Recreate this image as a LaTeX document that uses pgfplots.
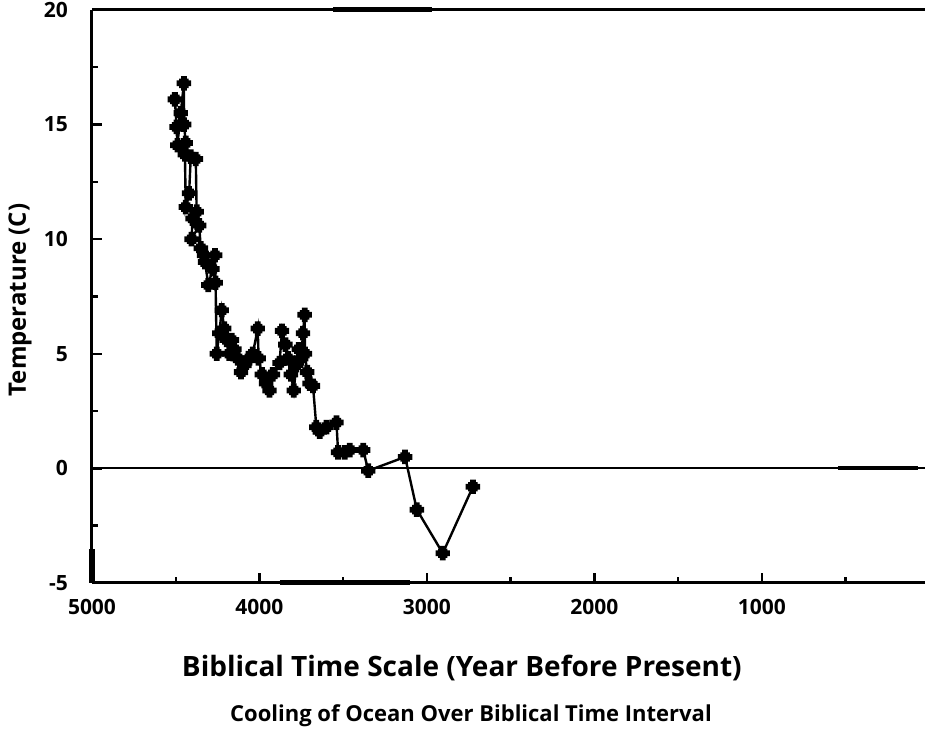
\documentclass[border=0pt]{standalone}
\usepackage{fontspec}
\setmainfont{Open Sans}
\usepackage{pgfplots}
\pgfplotsset{compat=1.18}
\usetikzlibrary{calc}
\pgfdeclareplotmark{fatplus}{%
  \pgfpathrectangle{\pgfpoint{-\pgfplotmarksize}{-0.4\pgfplotmarksize}}{\pgfpoint{2\pgfplotmarksize}{0.8\pgfplotmarksize}}%
  \pgfpathrectangle{\pgfpoint{-0.4\pgfplotmarksize}{-\pgfplotmarksize}}{\pgfpoint{0.8\pgfplotmarksize}{2\pgfplotmarksize}}%
  \pgfpathrectangle{\pgfpoint{-0.65\pgfplotmarksize}{-0.65\pgfplotmarksize}}{\pgfpoint{1.3\pgfplotmarksize}{1.3\pgfplotmarksize}}%
  \pgfusepathqfill}
\pgfplotstableread{
x y
4505 16.1
4495 14.9
4490 14.1
4470 15.5
4451 16.8
4450 15.0
4440 14.2
4445 13.7
4440 11.4
4420 12.0
4410 13.6
4380 13.5
4375 11.2
4400 10.9
4405 10.0
4360 10.6
4350 9.6
4330 9.3
4325 9.0
4305 8.0
4280 8.7
4265 9.3
4262 8.1
4255 5.0
4240 5.9
4225 6.9
4210 6.1
4195 5.6
4180 5.0
4165 5.6
4150 5.2
4130 4.8
4110 4.2
4090 4.5
4060 4.8
4040 5.0
4010 6.1
4005 4.8
3985 4.1
3960 3.7
3940 3.4
3920 4.1
3880 4.6
3865 6.0
3845 5.4
3830 4.8
3812 4.1
3795 3.4
3780 4.5
3765 5.2
3750 4.8
3740 5.9
3730 6.7
3728 5.0
3715 4.2
3700 3.7
3680 3.6
3660 1.8
3640 1.6
3600 1.8
3540 2.0
3530 0.7
3490 0.7
3460 0.8
3380 0.8
3350 -0.1
3130 0.5
3060 -1.8
2905 -3.7
2725 -0.8
}\datatable
\begin{document}
\begin{tikzpicture}
\begin{axis}[
  scale only axis,
  width=416.5pt, height=286.5pt,
  x dir=reverse,
  xmin=25, xmax=5000,
  ymin=-5, ymax=20,
  clip=false,
  axis x line*=bottom,
  axis y line*=left,
  axis line style={line width=1.5pt},
  xtick={1000,2000,3000,4000,5000},
  minor xtick={500,1500,2500,3500,4500},
  ytick={-5,0,5,10,15,20},
  minor ytick={-2.5,2.5,7.5,12.5,17.5},
  tick align=inside,
  major tick length=5pt,
  minor tick length=3pt,
  tick style={line width=1.2pt, black},
  /pgf/number format/assume math mode=true,
  /pgf/number format/1000 sep={},
  ticklabel style={font=\fontsize{10.5}{12}\selectfont\bfseries},
  yticklabel style={xshift=-8.5pt},
  xticklabel style={yshift=-4.5pt},
  xlabel={Biblical Time Scale (Year Before Present)},
  xlabel style={font=\fontsize{14}{16}\selectfont\bfseries, at={(axis description cs:0.444,0)}, anchor=center, yshift=-42.5pt},
]
\draw[line width=1.5pt] (axis description cs:0,1) -- (axis description cs:1,1);
\addplot[black, line width=1pt, forget plot] coordinates {(5000,0) (25,0)};
\addplot[black, line width=2.5pt, forget plot] coordinates {(3561,20) (2970,20)};
\addplot[black, line width=2.5pt, forget plot] coordinates {(3878,-5) (3101,-5)};
\addplot[black, line width=3pt, forget plot] coordinates {(5000,-5) (5000,-3.5)};
\addplot[black, line width=2pt, forget plot] coordinates {(546,0) (69,0)};
\addplot[black, line width=1.2pt, mark=fatplus, mark size=3.6pt, mark options={solid}] table[x=x,y=y] {\datatable};
\end{axis}
\node[rotate=90, font=\fontsize{12}{14}\selectfont\bfseries] at ($(current axis.south west)+(-36pt,141.5pt)$) {Temperature (C)};
\node[font=\fontsize{11}{13}\selectfont\bfseries] at ($(current axis.south west)+(189.5pt,-66.5pt)$) {Cooling of Ocean Over Biblical Time Interval};
\pgfresetboundingbox
\path ($(current axis.south west)+(-46pt,-74pt)$) rectangle ($(current axis.north east)+(0pt,5pt)$);
\end{tikzpicture}
\end{document}
